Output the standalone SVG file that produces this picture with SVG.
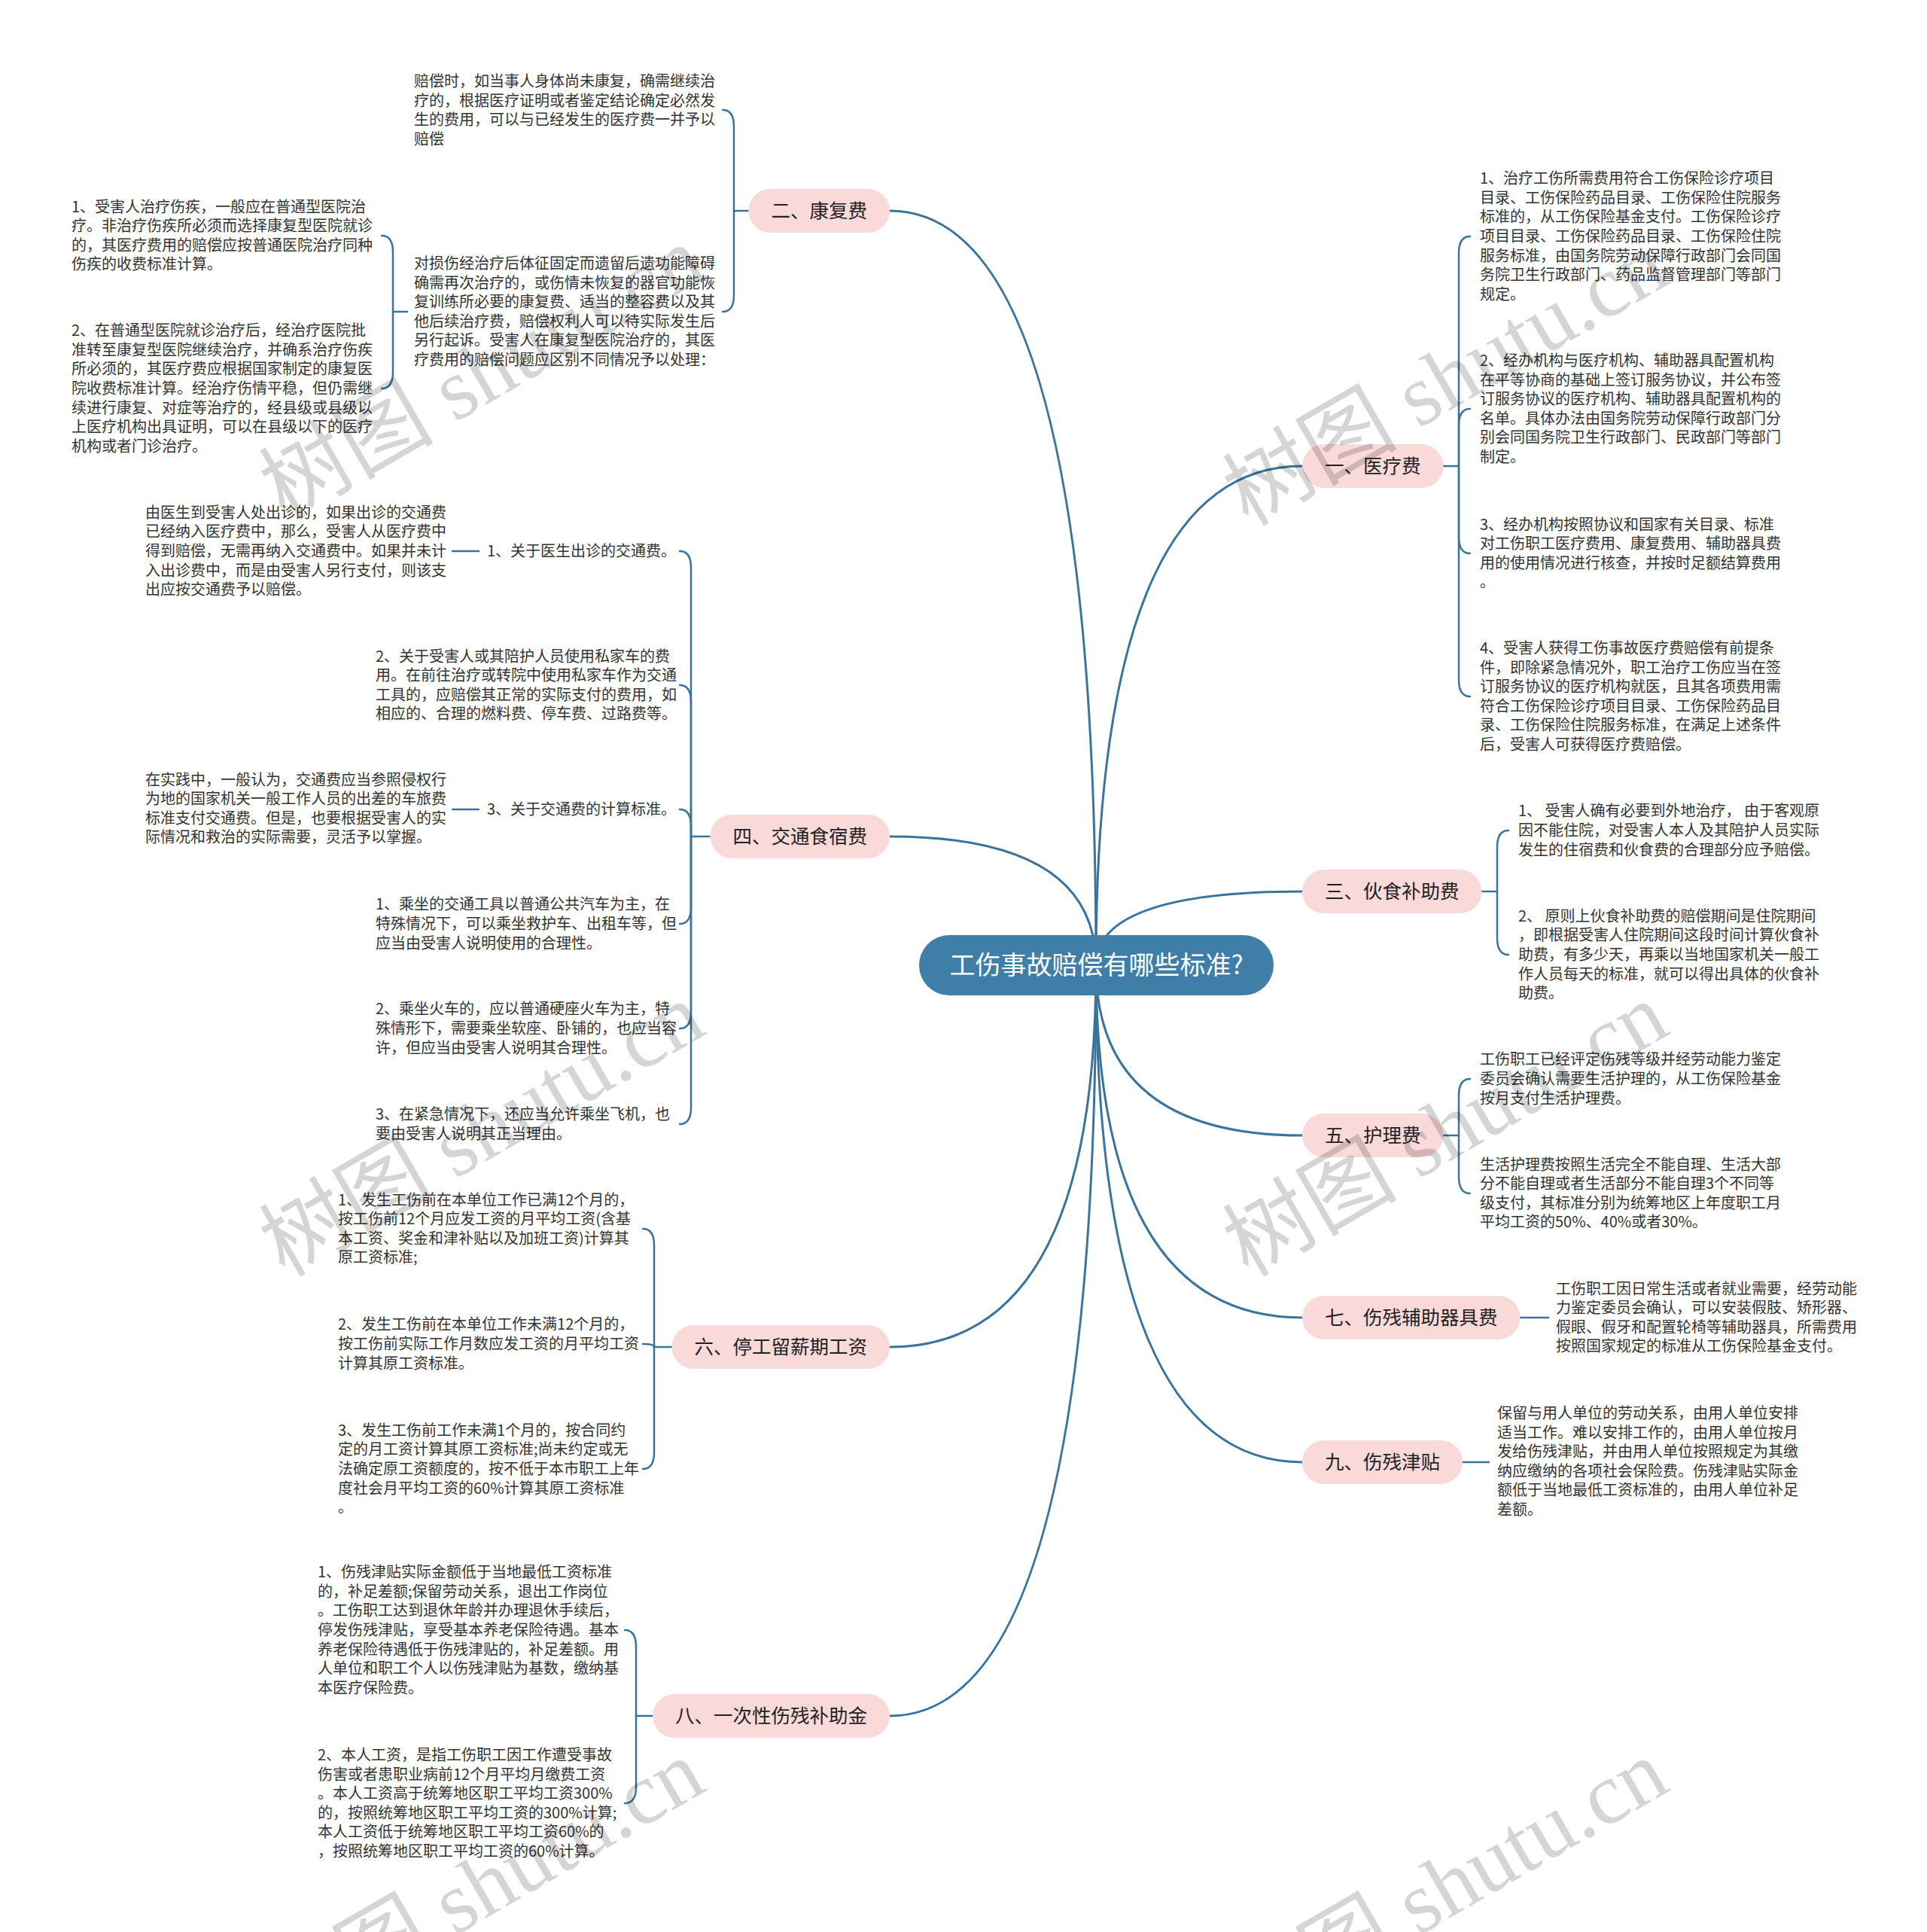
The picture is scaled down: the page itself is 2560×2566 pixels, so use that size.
<svg xmlns="http://www.w3.org/2000/svg" width="2560" height="2566" viewBox="0 0 2560 2566">
<style>
.t{font-family:"Noto Sans CJK SC","Liberation Sans",sans-serif;font-size:20px;fill:#333}
.pill{fill:#fad9d9}
.pt{font-family:"Noto Sans CJK SC","Liberation Sans",sans-serif;font-size:25.5px;fill:#222;text-anchor:middle}
.rt{font-family:"Noto Sans CJK SC","Liberation Sans",sans-serif;font-size:34px;fill:#fff;text-anchor:middle}
.c{fill:none;stroke:#3a739c;stroke-width:3;stroke-linecap:round}
.s{fill:none;stroke:#3a739c;stroke-width:2.5;stroke-linecap:round}
.wm{font-family:"Liberation Serif","Noto Sans CJK SC",serif;font-size:116px;fill:#000;opacity:0.16}
</style>
<rect width="2560" height="2566" fill="#fff"/>
<g id="connectors">
<path class="c" d="M1456,1282 Q1456,280 1182,280"/>
<path class="c" d="M1456,1282 Q1456,1111 1182,1111"/>
<path class="c" d="M1456,1282 Q1456,1789 1182,1789"/>
<path class="c" d="M1456,1282 Q1456,2279 1182,2279"/>
<path class="c" d="M1456,1282 Q1456,619 1730,619"/>
<path class="c" d="M1456,1282 Q1456,1184 1730,1184"/>
<path class="c" d="M1456,1282 Q1456,1508 1730,1508"/>
<path class="c" d="M1456,1282 Q1456,1750 1730,1750"/>
<path class="c" d="M1456,1282 Q1456,1942 1730,1942"/>
<path class="s" d="M994,280 H975"/>
<path class="s" d="M975,280 V168 Q975,146 960,146"/>
<path class="s" d="M975,280 V392 Q975,414 960,414"/>
<path class="s" d="M541,414 H522"/>
<path class="s" d="M522,414 V335 Q522,313 507,313"/>
<path class="s" d="M522,414 V494 Q522,516 507,516"/>
<path class="s" d="M943,1111 H918"/>
<path class="s" d="M918,1111 V754 Q918,732 903,732"/>
<path class="s" d="M918,1111 V932 Q918,910 903,910"/>
<path class="s" d="M918,1111 V1097 Q918,1075 903,1075"/>
<path class="s" d="M918,1111 V1205 Q918,1227 903,1227"/>
<path class="s" d="M918,1111 V1344 Q918,1366 903,1366"/>
<path class="s" d="M918,1111 V1471 Q918,1493 903,1493"/>
<path class="s" d="M636,732 H601"/>
<path class="s" d="M636,1075 H601"/>
<path class="s" d="M892,1789 H869"/>
<path class="s" d="M869,1789 V1654 Q869,1632 854,1632"/>
<path class="s" d="M869,1789 Q869,1785 854,1785"/>
<path class="s" d="M869,1789 V1929 Q869,1951 854,1951"/>
<path class="s" d="M867,2279 H845"/>
<path class="s" d="M845,2279 V2187 Q845,2165 830,2165"/>
<path class="s" d="M845,2279 V2373 Q845,2395 830,2395"/>
<path class="s" d="M1917,619 H1938"/>
<path class="s" d="M1938,619 V336 Q1938,314 1953,314"/>
<path class="s" d="M1938,619 V565 Q1938,543 1953,543"/>
<path class="s" d="M1938,619 V713 Q1938,735 1953,735"/>
<path class="s" d="M1938,619 V903 Q1938,925 1953,925"/>
<path class="s" d="M1968,1184 H1989"/>
<path class="s" d="M1989,1184 V1125 Q1989,1103 2004,1103"/>
<path class="s" d="M1989,1184 V1246 Q1989,1268 2004,1268"/>
<path class="s" d="M1917,1508 H1938"/>
<path class="s" d="M1938,1508 V1455 Q1938,1433 1953,1433"/>
<path class="s" d="M1938,1508 V1563 Q1938,1585 1953,1585"/>
<path class="s" d="M2019,1750 H2057"/>
<path class="s" d="M1943,1942 H1978"/>
</g>
<g id="root">
<rect x="1221" y="1242" width="471" height="80" rx="40" fill="#3f7ea7"/>
<text class="rt" x="1456.5" y="1294">工伤事故赔偿有哪些标准?</text>
</g>
<g id="n2"><rect class="pill" x="994.5" y="251" width="187.5" height="58" rx="29"/><text class="pt" x="1088.25" y="289">二、康复费</text></g>
<g id="n1"><rect class="pill" x="1730" y="590" width="187.5" height="58" rx="29"/><text class="pt" x="1823.75" y="628">一、医疗费</text></g>
<g id="n3"><rect class="pill" x="1730" y="1155" width="238.5" height="58" rx="29"/><text class="pt" x="1849.25" y="1193">三、伙食补助费</text></g>
<g id="n4"><rect class="pill" x="943.5" y="1082" width="238.5" height="58" rx="29"/><text class="pt" x="1062.75" y="1120">四、交通食宿费</text></g>
<g id="n5"><rect class="pill" x="1730" y="1479" width="187.5" height="58" rx="29"/><text class="pt" x="1823.75" y="1517">五、护理费</text></g>
<g id="n6"><rect class="pill" x="892.5" y="1760" width="289.5" height="58" rx="29"/><text class="pt" x="1037.25" y="1798">六、停工留薪期工资</text></g>
<g id="n7"><rect class="pill" x="1730" y="1721" width="289.5" height="58" rx="29"/><text class="pt" x="1874.75" y="1759">七、伤残辅助器具费</text></g>
<g id="n8"><rect class="pill" x="867" y="2250" width="315" height="58" rx="29"/><text class="pt" x="1024.5" y="2288">八、一次性伤残补助金</text></g>
<g id="n9"><rect class="pill" x="1730" y="1913" width="213" height="58" rx="29"/><text class="pt" x="1836.5" y="1951">九、伤残津贴</text></g>

<g id="k1"><text class="t" x="550" y="115.1"><tspan x="550">赔偿时，如当事人身体尚未康复，确需继续治</tspan><tspan x="550" dy="25.6">疗的，根据医疗证明或者鉴定结论确定必然发</tspan><tspan x="550" dy="25.6">生的费用，可以与已经发生的医疗费一并予以</tspan><tspan x="550" dy="25.6">赔偿</tspan></text></g>
<g id="k2"><text class="t" x="550" y="357"><tspan x="550">对损伤经治疗后体征固定而遗留后遗功能障碍</tspan><tspan x="550" dy="25.6">确需再次治疗的，或伤情未恢复的器官功能恢</tspan><tspan x="550" dy="25.6">复训练所必要的康复费、适当的整容费以及其</tspan><tspan x="550" dy="25.6">他后续治疗费，赔偿权利人可以待实际发生后</tspan><tspan x="550" dy="25.6">另行起诉。受害人在康复型医院治疗的，其医</tspan><tspan x="550" dy="25.6">疗费用的赔偿问题应区别不同情况予以处理：</tspan></text></g>
<g id="k2a"><text class="t" x="95" y="281.6"><tspan x="95">1、受害人治疗伤疾，一般应在普通型医院治</tspan><tspan x="95" dy="25.6">疗。非治疗伤疾所必须而选择康复型医院就诊</tspan><tspan x="95" dy="25.6">的，其医疗费用的赔偿应按普通医院治疗同种</tspan><tspan x="95" dy="25.6">伤疾的收费标准计算。</tspan></text></g>
<g id="k2b"><text class="t" x="95" y="446.2"><tspan x="95">2、在普通型医院就诊治疗后，经治疗医院批</tspan><tspan x="95" dy="25.6">准转至康复型医院继续治疗，并确系治疗伤疾</tspan><tspan x="95" dy="25.6">所必须的，其医疗费应根据国家制定的康复医</tspan><tspan x="95" dy="25.6">院收费标准计算。经治疗伤情平稳，但仍需继</tspan><tspan x="95" dy="25.6">续进行康复、对症等治疗的，经县级或县级以</tspan><tspan x="95" dy="25.6">上医疗机构出具证明，可以在县级以下的医疗</tspan><tspan x="95" dy="25.6">机构或者门诊治疗。</tspan></text></g>

<g id="m1"><text class="t" x="1966" y="244.2"><tspan x="1966">1、治疗工伤所需费用符合工伤保险诊疗项目</tspan><tspan x="1966" dy="25.6">目录、工伤保险药品目录、工伤保险住院服务</tspan><tspan x="1966" dy="25.6">标准的，从工伤保险基金支付。工伤保险诊疗</tspan><tspan x="1966" dy="25.6">项目目录、工伤保险药品目录、工伤保险住院</tspan><tspan x="1966" dy="25.6">服务标准，由国务院劳动保障行政部门会同国</tspan><tspan x="1966" dy="25.6">务院卫生行政部门、药品监督管理部门等部门</tspan><tspan x="1966" dy="25.6">规定。</tspan></text></g>
<g id="m2"><text class="t" x="1966" y="486"><tspan x="1966">2、经办机构与医疗机构、辅助器具配置机构</tspan><tspan x="1966" dy="25.6">在平等协商的基础上签订服务协议，并公布签</tspan><tspan x="1966" dy="25.6">订服务协议的医疗机构、辅助器具配置机构的</tspan><tspan x="1966" dy="25.6">名单。具体办法由国务院劳动保障行政部门分</tspan><tspan x="1966" dy="25.6">别会同国务院卫生行政部门、民政部门等部门</tspan><tspan x="1966" dy="25.6">制定。</tspan></text></g>
<g id="m3"><text class="t" x="1966" y="703.6"><tspan x="1966">3、经办机构按照协议和国家有关目录、标准</tspan><tspan x="1966" dy="25.6">对工伤职工医疗费用、康复费用、辅助器具费</tspan><tspan x="1966" dy="25.6">用的使用情况进行核查，并按时足额结算费用</tspan><tspan x="1966" dy="25.6">。</tspan></text></g>
<g id="m4"><text class="t" x="1966" y="868"><tspan x="1966">4、受害人获得工伤事故医疗费赔偿有前提条</tspan><tspan x="1966" dy="25.6">件，即除紧急情况外，职工治疗工伤应当在签</tspan><tspan x="1966" dy="25.6">订服务协议的医疗机构就医，且其各项费用需</tspan><tspan x="1966" dy="25.6">符合工伤保险诊疗项目目录、工伤保险药品目</tspan><tspan x="1966" dy="25.6">录、工伤保险住院服务标准，在满足上述条件</tspan><tspan x="1966" dy="25.6">后，受害人可获得医疗费赔偿。</tspan></text></g>

<g id="f1"><text class="t" x="2017" y="1084.4"><tspan x="2017">1、 受害人确有必要到外地治疗， 由于客观原</tspan><tspan x="2017" dy="25.6">因不能住院，对受害人本人及其陪护人员实际</tspan><tspan x="2017" dy="25.6">发生的住宿费和伙食费的合理部分应予赔偿。</tspan></text></g>
<g id="f2"><text class="t" x="2017" y="1223.8"><tspan x="2017">2、 原则上伙食补助费的赔偿期间是住院期间</tspan><tspan x="2017" dy="25.6">，即根据受害人住院期间这段时间计算伙食补</tspan><tspan x="2017" dy="25.6">助费，有多少天，再乘以当地国家机关一般工</tspan><tspan x="2017" dy="25.6">作人员每天的标准，就可以得出具体的伙食补</tspan><tspan x="2017" dy="25.6">助费。</tspan></text></g>

<g id="p1"><text class="t" x="1966" y="1414.4"><tspan x="1966">工伤职工已经评定伤残等级并经劳动能力鉴定</tspan><tspan x="1966" dy="25.6">委员会确认需要生活护理的，从工伤保险基金</tspan><tspan x="1966" dy="25.6">按月支付生活护理费。</tspan></text></g>
<g id="p2"><text class="t" x="1966" y="1553.6"><tspan x="1966">生活护理费按照生活完全不能自理、生活大部</tspan><tspan x="1966" dy="25.6">分不能自理或者生活部分不能自理3个不同等</tspan><tspan x="1966" dy="25.6">级支付，其标准分别为统筹地区上年度职工月</tspan><tspan x="1966" dy="25.6">平均工资的50%、40%或者30%。</tspan></text></g>

<g id="s1"><text class="t" x="2067" y="1718.6"><tspan x="2067">工伤职工因日常生活或者就业需要，经劳动能</tspan><tspan x="2067" dy="25.6">力鉴定委员会确认，可以安装假肢、矫形器、</tspan><tspan x="2067" dy="25.6">假眼、假牙和配置轮椅等辅助器具，所需费用</tspan><tspan x="2067" dy="25.6">按照国家规定的标准从工伤保险基金支付。</tspan></text></g>

<g id="j1"><text class="t" x="1989" y="1884"><tspan x="1989">保留与用人单位的劳动关系，由用人单位安排</tspan><tspan x="1989" dy="25.6">适当工作。难以安排工作的，由用人单位按月</tspan><tspan x="1989" dy="25.6">发给伤残津贴，并由用人单位按照规定为其缴</tspan><tspan x="1989" dy="25.6">纳应缴纳的各项社会保险费。伤残津贴实际金</tspan><tspan x="1989" dy="25.6">额低于当地最低工资标准的，由用人单位补足</tspan><tspan x="1989" dy="25.6">差额。</tspan></text></g>

<g id="t1"><text class="t" x="647" y="739">1、关于医生出诊的交通费。</text></g>
<g id="t1c"><text class="t" x="193" y="687.8"><tspan x="193">由医生到受害人处出诊的，如果出诊的交通费</tspan><tspan x="193" dy="25.6">已经纳入医疗费中，那么，受害人从医疗费中</tspan><tspan x="193" dy="25.6">得到赔偿，无需再纳入交通费中。如果并未计</tspan><tspan x="193" dy="25.6">入出诊费中，而是由受害人另行支付，则该支</tspan><tspan x="193" dy="25.6">出应按交通费予以赔偿。</tspan></text></g>
<g id="t2"><text class="t" x="499" y="878.6"><tspan x="499">2、关于受害人或其陪护人员使用私家车的费</tspan><tspan x="499" dy="25.6">用。在前往治疗或转院中使用私家车作为交通</tspan><tspan x="499" dy="25.6">工具的，应赔偿其正常的实际支付的费用，如</tspan><tspan x="499" dy="25.6">相应的、合理的燃料费、停车费、过路费等。</tspan></text></g>
<g id="t3"><text class="t" x="647" y="1082">3、关于交通费的计算标准。</text></g>
<g id="t3c"><text class="t" x="193" y="1042.6"><tspan x="193">在实践中，一般认为，交通费应当参照侵权行</tspan><tspan x="193" dy="25.6">为地的国家机关一般工作人员的出差的车旅费</tspan><tspan x="193" dy="25.6">标准支付交通费。但是，也要根据受害人的实</tspan><tspan x="193" dy="25.6">际情况和救治的实际需要，灵活予以掌握。</tspan></text></g>
<g id="t4"><text class="t" x="499" y="1208.4"><tspan x="499">1、乘坐的交通工具以普通公共汽车为主，在</tspan><tspan x="499" dy="25.6">特殊情况下，可以乘坐救护车、出租车等，但</tspan><tspan x="499" dy="25.6">应当由受害人说明使用的合理性。</tspan></text></g>
<g id="t5"><text class="t" x="499" y="1347.4"><tspan x="499">2、乘坐火车的，应以普通硬座火车为主，特</tspan><tspan x="499" dy="25.6">殊情形下，需要乘坐软座、卧铺的，也应当容</tspan><tspan x="499" dy="25.6">许，但应当由受害人说明其合理性。</tspan></text></g>
<g id="t6"><text class="t" x="499" y="1487.2"><tspan x="499">3、在紧急情况下，还应当允许乘坐飞机，也</tspan><tspan x="499" dy="25.6">要由受害人说明其正当理由。</tspan></text></g>

<g id="w1"><text class="t" x="449" y="1600.6"><tspan x="449">1、发生工伤前在本单位工作已满12个月的，</tspan><tspan x="449" dy="25.6">按工伤前12个月应发工资的月平均工资(含基</tspan><tspan x="449" dy="25.6">本工资、奖金和津补贴以及加班工资)计算其</tspan><tspan x="449" dy="25.6">原工资标准;</tspan></text></g>
<g id="w2"><text class="t" x="449" y="1766.4"><tspan x="449">2、发生工伤前在本单位工作未满12个月的，</tspan><tspan x="449" dy="25.6">按工伤前实际工作月数应发工资的月平均工资</tspan><tspan x="449" dy="25.6">计算其原工资标准。</tspan></text></g>
<g id="w3"><text class="t" x="449" y="1906.8"><tspan x="449">3、发生工伤前工作未满1个月的，按合同约</tspan><tspan x="449" dy="25.6">定的月工资计算其原工资标准;尚未约定或无</tspan><tspan x="449" dy="25.6">法确定原工资额度的，按不低于本市职工上年</tspan><tspan x="449" dy="25.6">度社会月平均工资的60%计算其原工资标准</tspan><tspan x="449" dy="25.6">。</tspan></text></g>

<g id="b1"><text class="t" x="422" y="2095.2"><tspan x="422">1、伤残津贴实际金额低于当地最低工资标准</tspan><tspan x="422" dy="25.6">的，补足差额;保留劳动关系，退出工作岗位</tspan><tspan x="422" dy="25.6">。工伤职工达到退休年龄并办理退休手续后，</tspan><tspan x="422" dy="25.6">停发伤残津贴，享受基本养老保险待遇。基本</tspan><tspan x="422" dy="25.6">养老保险待遇低于伤残津贴的，补足差额。用</tspan><tspan x="422" dy="25.6">人单位和职工个人以伤残津贴为基数，缴纳基</tspan><tspan x="422" dy="25.6">本医疗保险费。</tspan></text></g>
<g id="b2"><text class="t" x="422" y="2338"><tspan x="422">2、本人工资，是指工伤职工因工作遭受事故</tspan><tspan x="422" dy="25.6">伤害或者患职业病前12个月平均月缴费工资</tspan><tspan x="422" dy="25.6">。本人工资高于统筹地区职工平均工资300%</tspan><tspan x="422" dy="25.6">的，按照统筹地区职工平均工资的300%计算;</tspan><tspan x="422" dy="25.6">本人工资低于统筹地区职工平均工资60%的</tspan><tspan x="422" dy="25.6">，按照统筹地区职工平均工资的60%计算。</tspan></text></g>

<g id="watermarks">
<text class="wm" transform="translate(378,692) rotate(-30)">树图 shutu.cn</text>
<text class="wm" transform="translate(1658,700) rotate(-30)">树图 shutu.cn</text>
<text class="wm" transform="translate(378,1697) rotate(-30)">树图 shutu.cn</text>
<text class="wm" transform="translate(1658,1697) rotate(-30)">树图 shutu.cn</text>
<text class="wm" transform="translate(378,2702) rotate(-30)">树图 shutu.cn</text>
<text class="wm" transform="translate(1658,2702) rotate(-30)">树图 shutu.cn</text>
</g>
</svg>
